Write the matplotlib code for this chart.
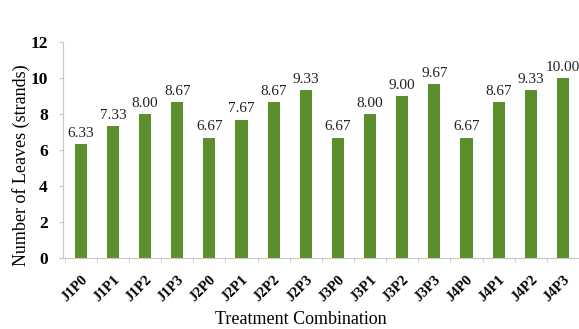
import matplotlib
matplotlib.use("Agg")
import matplotlib.pyplot as plt

treatments = ["J1P0", "J1P1", "J1P2", "J1P3", "J2P0", "J2P1", "J2P2", "J2P3",
              "J3P0", "J3P1", "J3P2", "J3P3", "J4P0", "J4P1", "J4P2", "J4P3"]
leaves = [6.33, 7.33, 8.00, 8.67, 6.67, 7.67, 8.67, 9.33,
          6.67, 8.00, 9.00, 9.67, 6.67, 8.67, 9.33, 10.00]
y_ticks = [0, 2, 4, 6, 8, 10, 12]

plt.rcParams["font.family"] = ["Liberation Serif", "DejaVu Serif"]

fig = plt.figure(figsize=(5.79, 3.29), dpi=100)
ax = fig.add_axes([0.109, 0.216, 0.891, 0.656])

x = list(range(len(treatments)))
ax.bar(x, leaves, width=0.38, color="#5b8f2e", zorder=2)

for xi, v in zip(x, leaves):
    ax.text(xi, v + 0.25, f"{v:.2f}", ha="center", va="bottom",
            fontsize=11, color="#222222", clip_on=False)

ax.set_xlim(-0.55, 15.23)
ax.set_ylim(0, 12)
ax.set_yticks(y_ticks)
ax.set_yticklabels([str(t) for t in y_ticks], fontsize=12.5, fontweight="bold")

# category labels at bar centres, tick marks at the boundaries between bars
ax.set_xticks(x)
ax.set_xticklabels(treatments, rotation=45, ha="right", rotation_mode="anchor",
                   fontsize=10.5, fontweight="bold")
ax.set_xticks([i + 0.5 for i in range(-1, len(treatments))], minor=True)
ax.tick_params(axis="x", which="major", length=0, pad=11)
ax.tick_params(axis="x", which="minor", length=3, color="#c8c8c8")

for side in ("top", "right"):
    ax.spines[side].set_visible(False)
for side in ("left", "bottom"):
    ax.spines[side].set_color("#c8c8c8")
    ax.spines[side].set_linewidth(0.8)
ax.tick_params(axis="y", length=3, color="#c8c8c8", pad=8)

ax.set_ylabel("Number of Leaves (strands)", fontsize=13)
ax.yaxis.set_label_coords(-0.064, 0.43)
ax.set_xlabel("Treatment Combination", fontsize=13)
ax.xaxis.set_label_coords(0.46, -0.248)

fig.savefig("out.png", dpi=100)
